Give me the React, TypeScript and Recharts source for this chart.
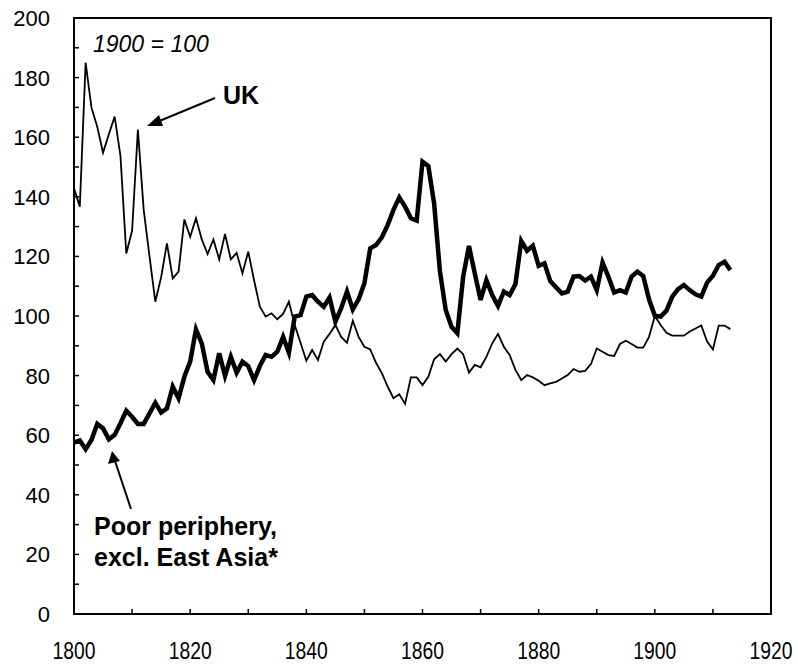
import { LineChart, Line, XAxis, YAxis, ReferenceArea } from "recharts";

// UK terms of trade, 1800-1913 (1900 = 100)
const ukValues = [
  142.9, 136.7, 185, 170, 163.5, 154.8, 161, 166.9, 153.7, 121,
  128.6, 162.6, 135.6, 120, 104.8, 113, 124.4, 112.6, 114.9, 132.4,
  126.6, 132.8, 125.7, 120.8, 125.7, 119, 127.5, 119, 121.2, 114.3,
  121.6, 112, 103.1, 99.8, 100.9, 98.9, 100.7, 104.8, 97, 91,
  85, 88.6, 85.2, 91.4, 94, 97, 93, 91, 98.4, 93,
  89.7, 88.8, 84.3, 80.8, 76.3, 72.4, 73.7, 70.5, 79.4, 79.4,
  76.8, 79.6, 85.5, 87.2, 84.7, 87.2, 89.1, 87.2, 81, 83.6,
  82.8, 86.3, 90.8, 94, 89.7, 86.9, 81.9, 78.5, 80.2, 79.4,
  78.3, 76.8, 77.4, 77.9, 79, 80.2, 82.2, 81.3, 81.6, 83.9,
  89.1, 88, 86.9, 86.6, 90.6, 91.7, 90.6, 89.4, 89.4, 93,
  100, 97, 94.4, 93.4, 93.4, 93.4, 94.8, 95.8, 96.8, 91.4,
  88.8, 96.8, 96.8, 95.6,
];

// Poor periphery, excl. East Asia
const peripheryValues = [
  57.5, 58.2, 55.3, 58.4, 63.8, 62.3, 58.6, 60.1, 64, 68.2,
  66.2, 63.8, 63.8, 67.3, 70.9, 67.6, 69, 76.3, 72.4, 79.6,
  84.7, 95.5, 90.8, 81.3, 78.5, 87.5, 79.9, 86.3, 81, 84.7,
  83.2, 78.5, 83.2, 86.9, 86.3, 88, 93, 87.7, 99.8, 100.3,
  106.5, 107, 104.8, 103.1, 106.2, 98.1, 102.6, 108.2, 102.2, 105.6,
  111, 122.7, 123.8, 126.4, 130.5, 135.6, 139.8, 136.7, 132.8, 132,
  151.8, 150.3, 137.8, 115, 102, 96.4, 94.2, 113.2, 123.5, 114.3,
  105.4, 112, 107, 103.4, 108.2, 107, 110.7, 125.2, 121.9, 123.6,
  116.8, 117.7, 111.7, 109.6, 107.6, 108.2, 113.2, 113.4, 111.9, 113.2,
  108.7, 117.9, 113.2, 107.9, 108.7, 107.9, 113.2, 114.9, 113.4, 105.6,
  100.1, 99.8, 101.8, 106.5, 109, 110.4, 108.7, 107.3, 106.5, 111.2,
  113.5, 117.1, 118.2, 115.4,
];

const firstYear = 1800;
const xTicks = [1800, 1810, 1820, 1830, 1840, 1850, 1860, 1870, 1880, 1890, 1900, 1910, 1920];
const yTicks = [0, 10, 20, 30, 40, 50, 60, 70, 80, 90, 100, 110, 120, 130, 140, 150, 160, 170, 180, 190, 200];

const data = ukValues.map((uk, i) => ({
  year: firstYear + i,
  uk,
  periphery: peripheryValues[i],
}));

const FONT = "'Liberation Sans', Arial, sans-serif";

function YTick(props: any) {
  const { x, y, payload } = props;
  const v = payload.value;
  return (
    <g>
      {v > 0 && v < 200 && (
        <line x1={x} x2={x + 5} y1={y} y2={y} stroke="#000" strokeWidth={1.5} />
      )}
      {v % 20 === 0 && (
        <text x={x - 24} y={y + 8} textAnchor="end" fontSize={22} fontFamily={FONT} fill="#000">
          {v}
        </text>
      )}
    </g>
  );
}

// x labels in the original are a narrow face, so squeeze them a little
function XTick(props: any) {
  const { x, y, payload } = props;
  const v = payload.value;
  return (
    <g>
      {v > 1800 && v < 1920 && (
        <line x1={x} x2={x} y1={y} y2={y - 5} stroke="#000" strokeWidth={1.5} />
      )}
      {v % 20 === 0 && (
        <text
          transform={`translate(${x},${y + 45}) scale(0.84,1)`}
          x={0}
          y={0}
          textAnchor="middle"
          fontSize={23}
          fontFamily={FONT}
          fill="#000"
        >
          {v}
        </text>
      )}
    </g>
  );
}

export default function App() {
  return (
    <div style={{ position: "absolute", left: 0, top: 0, width: 798, height: 666, background: "#fff" }}>
      <LineChart
        width={798}
        height={666}
        data={data}
        margin={{ top: 18, right: 27, bottom: 0, left: 0 }}
      >
        <XAxis
          dataKey="year"
          type="number"
          domain={[1800, 1920]}
          ticks={xTicks}
          interval={0}
          height={52}
          tickSize={0}
          tickMargin={0}
          tickLine={false}
          axisLine={{ stroke: "#000", strokeWidth: 2 }}
          tick={<XTick />}
        />
        <YAxis
          type="number"
          domain={[0, 200]}
          ticks={yTicks}
          interval={0}
          width={74}
          tickSize={0}
          tickMargin={0}
          tickLine={false}
          axisLine={{ stroke: "#000", strokeWidth: 2 }}
          tick={<YTick />}
        />
        <ReferenceArea
          x1={1800}
          x2={1920}
          y1={0}
          y2={200}
          fill="none"
          fillOpacity={0}
          stroke="#000"
          strokeWidth={2}
        />
        <Line
          type="linear"
          dataKey="uk"
          stroke="#000"
          strokeWidth={1.8}
          dot={false}
          isAnimationActive={false}
        />
        <Line
          type="linear"
          dataKey="periphery"
          stroke="#000"
          strokeWidth={4.5}
          dot={false}
          isAnimationActive={false}
        />
      </LineChart>
      <svg
        width={798}
        height={666}
        style={{ position: "absolute", left: 0, top: 0, pointerEvents: "none" }}
      >
        <text x={93} y={52} fontSize={23} fontStyle="italic" fontFamily={FONT} fill="#000">
          1900 = 100
        </text>
        <text x={223} y={104} fontSize={25} fontWeight="bold" fontFamily={FONT} fill="#000">
          UK
        </text>
        <line x1={215} y1={98} x2={157} y2={122} stroke="#000" strokeWidth={2} />
        <polygon points="147,126 159,115 163,126" fill="#000" />
        <line x1={131} y1={509} x2={115} y2={461} stroke="#000" strokeWidth={2} />
        <polygon points="112,451 108,464 120,461" fill="#000" />
        <text x={94} y={535} fontSize={25} fontWeight="bold" fontFamily={FONT} fill="#000">
          Poor periphery,
        </text>
        <text x={94} y={566} fontSize={25} fontWeight="bold" fontFamily={FONT} fill="#000">
          excl. East Asia*
        </text>
      </svg>
    </div>
  );
}
